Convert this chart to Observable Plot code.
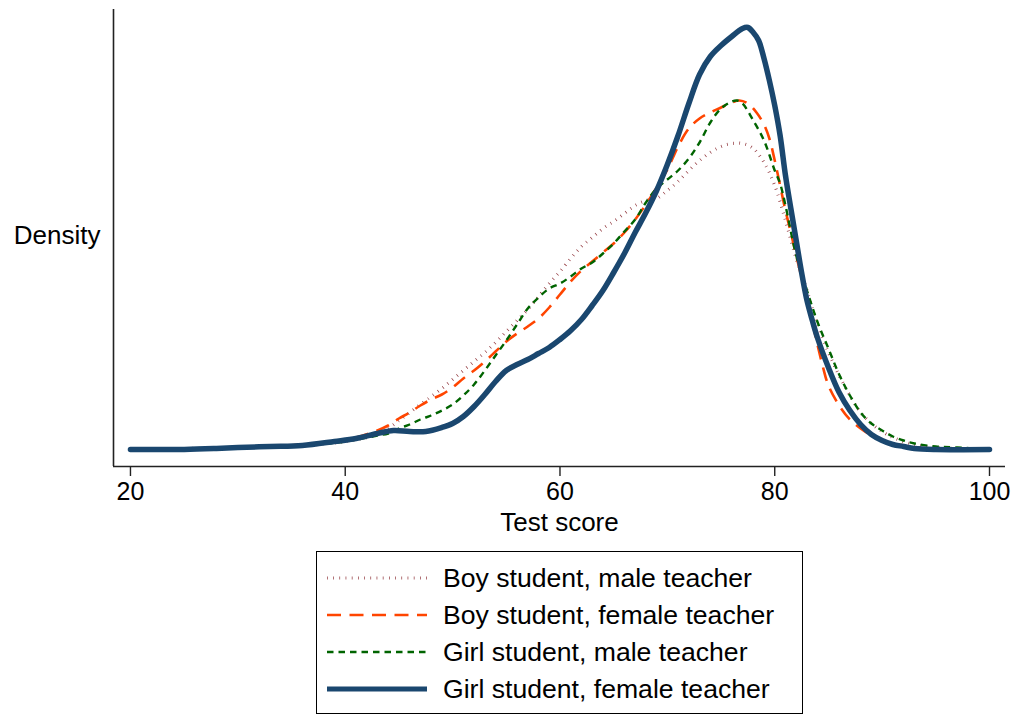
<!DOCTYPE html>
<html>
<head>
<meta charset="utf-8">
<script src="https://cdn.jsdelivr.net/npm/d3@7"></script>
<script src="https://cdn.jsdelivr.net/npm/@observablehq/plot@0.6"></script>
<style>
  html, body { margin: 0; padding: 0; background: #fff; }
  #wrap { position: relative; width: 1016px; height: 715px; font-family: "Liberation Sans", Arial, Helvetica, sans-serif; }
  #legend { position: absolute; left: 316px; top: 551px; width: 487px; height: 163px; box-sizing: border-box; border: 1.5px solid #000; }
</style>
</head>
<body>
<div id="wrap"><div id="chart"></div><div id="legend"></div></div>
<script>
// ---- data ----
const seriesNames = ["Boy student, male teacher", "Boy student, female teacher", "Girl student, male teacher", "Girl student, female teacher"];
const xTicks = [20, 40, 60, 80, 100];
const xDomain = [18.42, 101.49];
const yDomain = [-0.0017, 0.044];

const boyMaleScore = [20,30,36,40,43,44,45,46,47,48,49,50,51,52,53,54,55,56,57,58,59,60,61,62,63,64,65,66,67,68,69,70,71,72,73,74,75,76,77,78,79,80,81,82,83,84,85,86,87,88,89,90,91,92,93,95,100];
const boyMaleDensity = [0,0.0002,0.0004,0.0008,0.0015,0.0021,0.0029,0.0037,0.0045,0.0053,0.0061,0.0070,0.0079,0.0088,0.0097,0.0107,0.0118,0.0129,0.0140,0.0153,0.0166,0.0178,0.0191,0.0203,0.0212,0.0221,0.0228,0.0236,0.0244,0.0249,0.0251,0.0259,0.0268,0.0279,0.0289,0.0297,0.0303,0.0306,0.0306,0.0301,0.0287,0.0264,0.0229,0.0191,0.0159,0.0124,0.0097,0.0074,0.0054,0.0037,0.0026,0.0018,0.0012,0.0008,0.0005,0.0002,0];

const boyFemaleScore = [20,25,30,33,36,39,41,43,44,45,46,47,48,49,50,51,52,53,54,55,56,57,58,59,60,61,62,63,64,65,66,67,68,69,70,71,72,73,74,75,76,76.7,77.5,78.3,79,79.5,80,80.5,81,81.5,82,82.5,83,83.5,84,84.5,85,86,87,88,89,90,91,92,93,95,100];
const boyFemaleDensity = [0,0,0.0002,0.0003,0.0005,0.0008,0.0012,0.0019,0.0024,0.0031,0.0037,0.0044,0.0050,0.0055,0.0062,0.0071,0.0079,0.0088,0.0098,0.0108,0.0116,0.0123,0.0131,0.0142,0.0155,0.0168,0.0179,0.0188,0.0197,0.0206,0.0217,0.0230,0.0245,0.0262,0.0280,0.0303,0.0321,0.0331,0.0337,0.0342,0.0347,0.0349,0.0346,0.0337,0.0325,0.0311,0.0289,0.0264,0.0239,0.0217,0.0194,0.0172,0.0149,0.0127,0.0104,0.0082,0.0064,0.0044,0.0030,0.0021,0.0014,0.0009,0.0006,0.0004,0.0002,0.0001,0];

const girlMaleScore = [20,30,36,40,43,44,45,46,47,48,49,50,51,52,53,54,55,56,57,58,59,60,61,62,63,64,65,66,67,68,69,70,71,72,73,74,75,76,76.5,77,78,79,80,80.5,81,82,83,84,85,86,87,88,89,90,91,92,93,95,97,100];
const girlMaleDensity = [0,0.0002,0.0004,0.0008,0.0014,0.0016,0.0021,0.0025,0.0030,0.0034,0.0039,0.0045,0.0054,0.0065,0.0079,0.0094,0.0109,0.0125,0.0141,0.0152,0.0161,0.0166,0.0173,0.0181,0.0187,0.0196,0.0206,0.0218,0.0230,0.0247,0.0261,0.0270,0.0279,0.0291,0.0307,0.0327,0.0341,0.0348,0.0349,0.0346,0.0329,0.0309,0.0279,0.0266,0.0244,0.0194,0.0159,0.0127,0.0101,0.0075,0.0054,0.0037,0.0026,0.0019,0.0013,0.0009,0.0006,0.0003,0.0002,0];

const girlFemaleScore = [20,25,28,30,33,36,39,41,43,44.5,46,47.5,49,50,51,52,53,54,55,56,57,58,59,60,61,62,63,64,65,66,67,68,69,70,71,72,73,74,75,76,77,77.5,78,78.5,79,79.5,80,80.5,81,81.5,82,82.5,83,83.5,84,85,86,87,88,89,90,91,92,93,95,100];
const girlFemaleDensity = [0,0,0.0001,0.0002,0.0003,0.0004,0.0008,0.0011,0.0016,0.0019,0.0018,0.0018,0.0022,0.0026,0.0033,0.0043,0.0055,0.0068,0.0079,0.0085,0.0090,0.0096,0.0102,0.0110,0.0119,0.0130,0.0144,0.0159,0.0177,0.0196,0.0217,0.0237,0.0259,0.0285,0.0314,0.0346,0.0375,0.0393,0.0404,0.0413,0.0421,0.0422,0.0417,0.0409,0.0391,0.0369,0.0344,0.0314,0.0274,0.0241,0.0209,0.0177,0.0149,0.0129,0.0111,0.0082,0.0057,0.0039,0.0025,0.0015,0.0009,0.0005,0.0003,0.0001,0,0];

// ---- styles ----
const styles = [
  {stroke: "#90353b", strokeWidth: 3.2, strokeDasharray: "0.7,5.5"},
  {stroke: "#ff4500", strokeWidth: 2.6, strokeDasharray: "14,8.5"},
  {stroke: "#006400", strokeWidth: 2.4, strokeDasharray: "6.5,5"},
  {stroke: "#1a476f", strokeWidth: 5.5, strokeDasharray: null}
];

const toRows = (xs, ys) => xs.map((s, i) => ({score: s, density: ys[i]}));
const tables = [
  toRows(boyMaleScore, boyMaleDensity),
  toRows(boyFemaleScore, boyFemaleDensity),
  toRows(girlMaleScore, girlMaleDensity),
  toRows(girlFemaleScore, girlFemaleDensity)
];

const lineMarks = tables.map((t, i) => Plot.line(t, {
  x: "score", y: "density", curve: "catmull-rom",
  stroke: styles[i].stroke, strokeWidth: styles[i].strokeWidth,
  strokeDasharray: styles[i].strokeDasharray, strokeLinecap: i === 3 ? "round" : "butt",
  strokeLinejoin: "round"
}));

const chart = Plot.plot({
  width: 1016,
  height: 548,
  marginLeft: 113,
  marginRight: 11,
  marginTop: 9,
  marginBottom: 82,
  style: {fontFamily: "'Liberation Sans', Arial, Helvetica, sans-serif", fontSize: "25px", color: "#000", background: "#fff"},
  x: {domain: xDomain, axis: null},
  y: {domain: yDomain, axis: null},
  marks: [
    Plot.ruleX([xDomain[0]], {stroke: "#222", strokeWidth: 1.6}),
    Plot.ruleY([yDomain[0]], {stroke: "#222", strokeWidth: 1.6}),
    Plot.axisX({ticks: xTicks, tickSize: 10, tickPadding: 6, fontSize: 25, label: null, stroke: "#222", strokeWidth: 1.4}),
    Plot.text(["Density"], {frameAnchor: "left", lineAnchor: "middle", dx: -13, dy: -2, textAnchor: "end", fontSize: 26, fill: "#000"}),
    Plot.text(["Test score"], {frameAnchor: "bottom", lineAnchor: "middle", dy: 56, fontSize: 26, fill: "#000"}),
    ...lineMarks
  ]
});
document.getElementById("chart").appendChild(chart);

// ---- legend ----
const lg = d3.select("#legend").append("svg").attr("width", 484).attr("height", 160)
  .style("position", "absolute").style("left", "0px").style("top", "0px");
const rowY = [26, 63, 100, 137];
seriesNames.forEach((name, i) => {
  lg.append("line").attr("x1", 10).attr("x2", 110).attr("y1", rowY[i]).attr("y2", rowY[i])
    .attr("stroke", styles[i].stroke).attr("stroke-width", i === 3 ? 5 : styles[i].strokeWidth)
    .attr("stroke-dasharray", styles[i].strokeDasharray);
  lg.append("text").attr("x", 126).attr("y", rowY[i]).attr("dy", "0.35em")
    .attr("font-family", "'Liberation Sans', Arial, Helvetica, sans-serif").attr("font-size", 26.6)
    .attr("fill", "#000").text(name);
});
</script>
</body>
</html>
